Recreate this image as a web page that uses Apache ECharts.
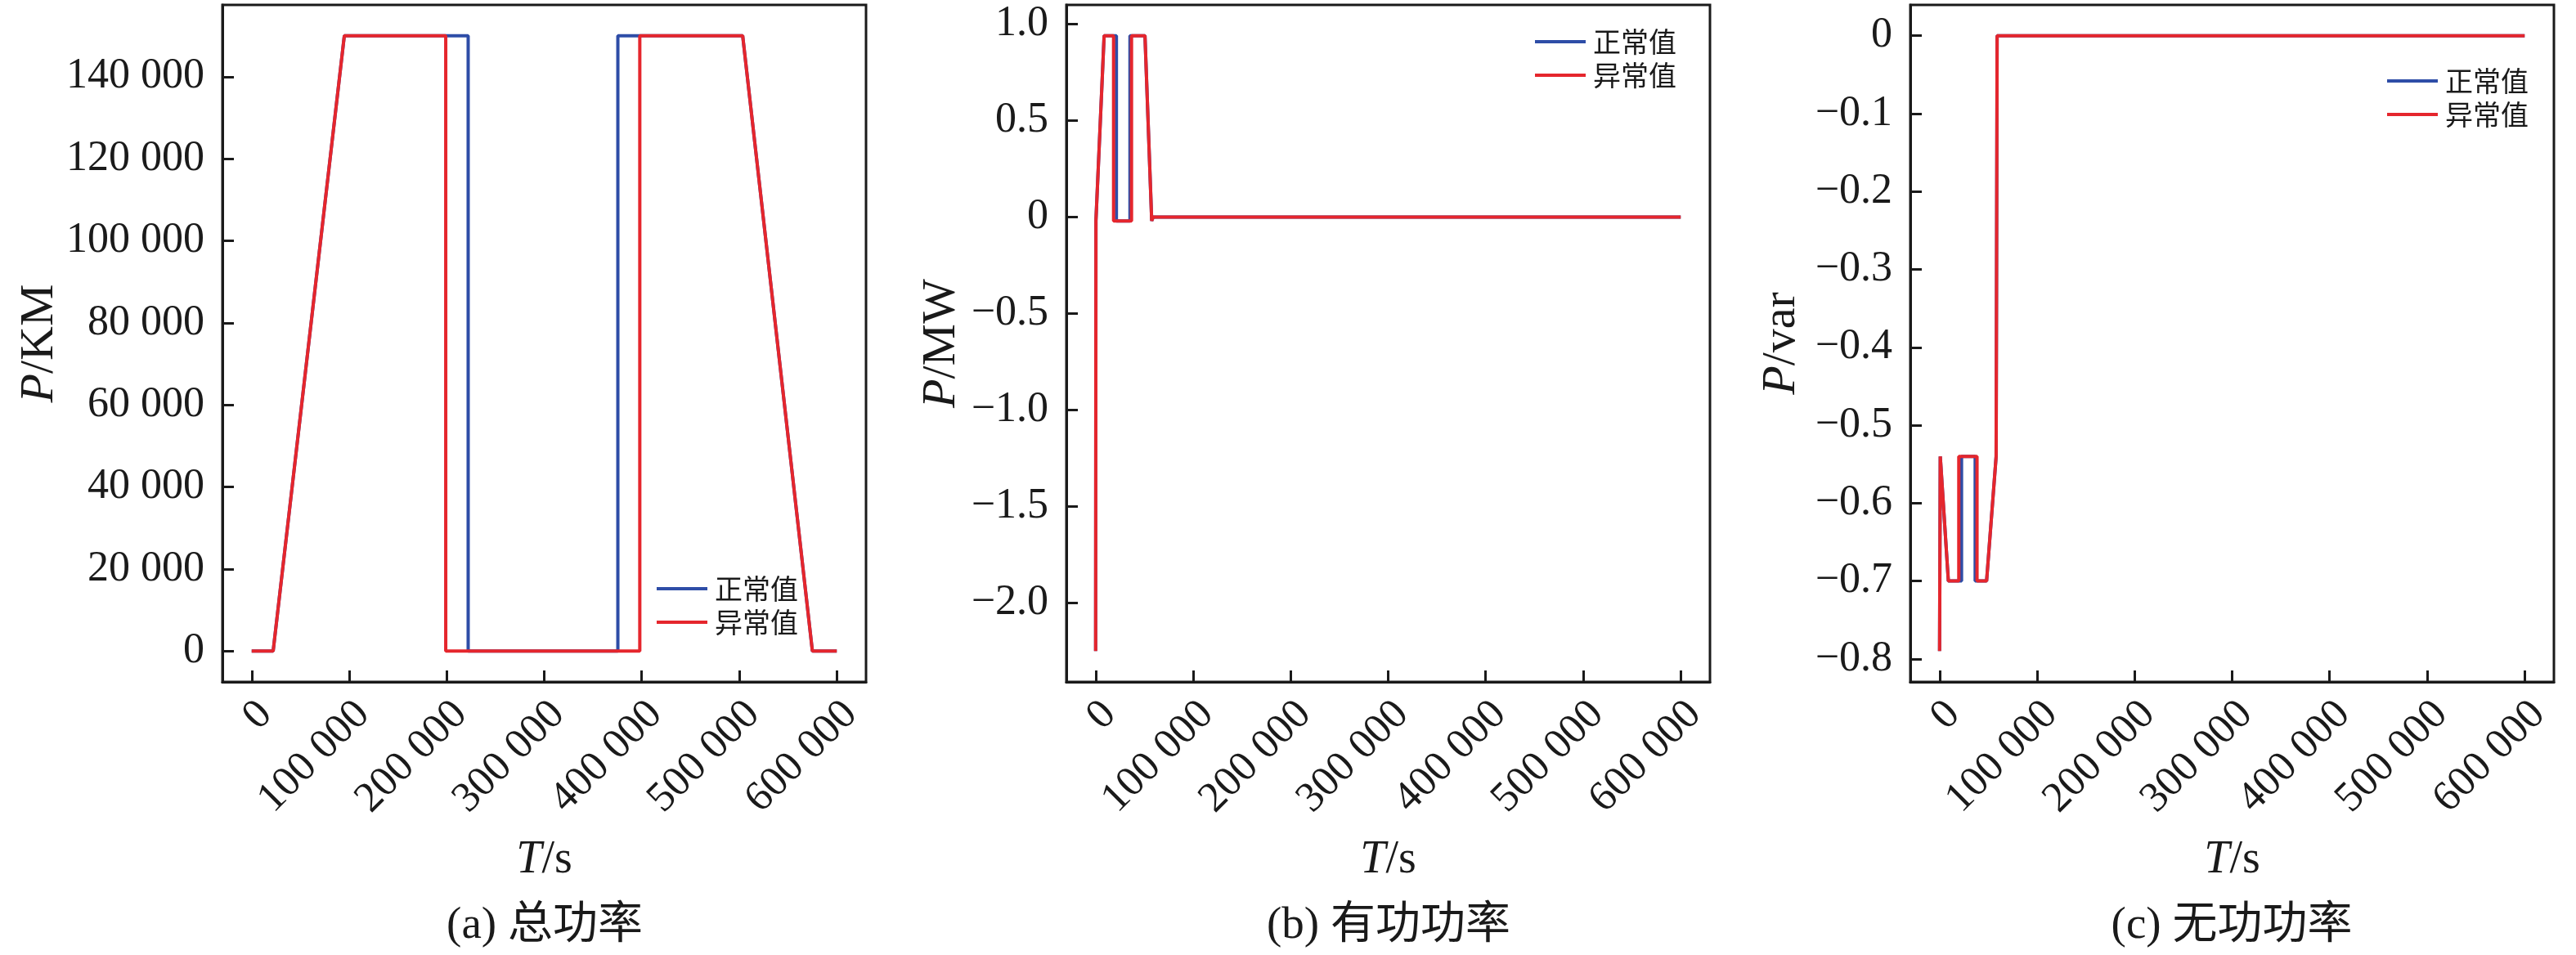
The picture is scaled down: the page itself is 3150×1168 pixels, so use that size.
<!DOCTYPE html>
<html>
<head>
<meta charset="utf-8">
<script src="https://cdn.jsdelivr.net/npm/echarts@6/dist/echarts.min.js"></script>
<style>
  html, body { margin: 0; padding: 0; background: #fff; }
  #main { width: 3150px; height: 1168px; }
</style>
</head>
<body>
<div id="main"></div>
<script>
// tick labels
const timeTicks = [0, 100000, 200000, 300000, 400000, 500000, 600000];
const totalTicks = [0, 20000, 40000, 60000, 80000, 100000, 120000, 140000];
const activeTicks = [-2, -1.5, -1, -0.5, 0, 0.5, 1];
const reactiveTicks = [-0.8, -0.7, -0.6, -0.5, -0.4, -0.3, -0.2, -0.1, 0];

// (a) total power
const totalNormalT = [0, 22000, 95000, 222000, 222000, 375500, 375500, 503500, 575000, 600000];
const totalNormalP = [0, 0, 150000, 150000, 0, 0, 150000, 150000, 0, 0];
const totalAbnormalT = [0, 22000, 95000, 199000, 199000, 398000, 398000, 503500, 575000, 600000];
const totalAbnormalP = [0, 0, 150000, 150000, 0, 0, 150000, 150000, 0, 0];

// (b) active power
const activeNormalT = [0, 300, 8700, 21300, 21300, 35200, 35200, 50600, 57500, 59000, 600000];
const activeNormalP = [-2.25, -0.02, 0.94, 0.94, -0.02, -0.02, 0.94, 0.94, -0.02, 0, 0];
const activeAbnormalT = [0, 300, 8700, 18400, 18400, 36800, 36800, 50600, 57500, 59000, 600000];
const activeAbnormalP = [-2.25, -0.02, 0.94, 0.94, -0.02, -0.02, 0.94, 0.94, -0.02, 0, 0];

// (c) reactive power
const reactiveNormalT = [0, 700, 9000, 22500, 22500, 36500, 36500, 48200, 58000, 59000, 600000];
const reactiveNormalP = [-0.79, -0.54, -0.70, -0.70, -0.54, -0.54, -0.70, -0.70, -0.54, 0, 0];
const reactiveAbnormalT = [0, 700, 9000, 19700, 19700, 38400, 38400, 48200, 58000, 59000, 600000];
const reactiveAbnormalP = [-0.79, -0.54, -0.70, -0.70, -0.54, -0.54, -0.70, -0.70, -0.54, 0, 0];

const BLUE = '#2e4da7';
const RED = '#e5262d';
const INK = '#1a1a1a';
const SERIF = '"Liberation Serif", "Times New Roman", serif';
const CJK = '"Noto Sans CJK SC", sans-serif';

function zip(t, p) {
  return t.map((x, i) => [x, p[i]]);
}
function spaced(v) {
  return String(v).replace(/\B(?=(\d{3})+(?!\d))/g, ' ');
}
function decimal(v) {
  if (Math.abs(v) < 1e-9) return '0';
  return v.toFixed(1).replace('-', '\u2212');
}

const chart = echarts.init(document.getElementById('main'));

const grids = [
  { left: 272, top: 6, width: 787, height: 828 },
  { left: 1304, top: 6, width: 787, height: 828 },
  { left: 2336, top: 6, width: 787, height: 828 }
];

function xAxisFor(i) {
  return {
    type: 'value',
    gridIndex: i,
    min: -30000,
    max: 630000,
    name: '{i|T}/s',
    nameLocation: 'middle',
    nameGap: 190,
    nameMoveOverlap: false,
    nameTextStyle: {
      color: INK, fontFamily: SERIF, fontSize: 56,
      rich: { i: { fontStyle: 'italic', fontFamily: SERIF, fontSize: 56, color: INK } }
    },
    axisLine: { show: true, onZero: false, lineStyle: { color: INK, width: 3 } },
    axisTick: { show: true, inside: true, length: 14, customValues: timeTicks, lineStyle: { color: INK, width: 3 } },
    axisLabel: {
      customValues: timeTicks,
      rotate: 45,
      margin: 15,
      verticalAlign: 'top',
      lineHeight: 48,
      color: INK, fontFamily: SERIF, fontSize: 52,
      formatter: spaced
    },
    splitLine: { show: false }
  };
}

function yAxisFor(i, min, max, ticks, fmt, name, gap) {
  return {
    type: 'value',
    gridIndex: i,
    min: min,
    max: max,
    name: name,
    nameLocation: 'middle',
    nameGap: gap,
    nameMoveOverlap: false,
    nameTextStyle: {
      color: INK, fontFamily: SERIF, fontSize: 58,
      rich: { i: { fontStyle: 'italic', fontFamily: SERIF, fontSize: 58, color: INK } }
    },
    axisLine: { show: true, onZero: false, lineStyle: { color: INK, width: 3 } },
    axisTick: { show: true, inside: true, length: 14, customValues: ticks, lineStyle: { color: INK, width: 3 } },
    axisLabel: {
      customValues: ticks,
      margin: 22,
      color: INK, fontFamily: SERIF, fontSize: 52,
      formatter: fmt
    },
    splitLine: { show: false }
  };
}

function lineSeries(name, color, i, data) {
  return {
    name: name,
    type: 'line',
    xAxisIndex: i,
    yAxisIndex: i,
    data: data,
    symbol: 'none',
    lineStyle: { color: color, width: 4 },
    itemStyle: { color: color },
    animation: false
  };
}

function legendAt(left, top) {
  return {
    orient: 'vertical',
    left: left,
    top: top,
    icon: 'rect',
    itemWidth: 62,
    itemHeight: 4,
    itemGap: 7,
    data: ['正常值', '异常值'],
    textStyle: { fontFamily: CJK, fontSize: 34, color: INK, padding: [0, 0, 0, 4] }
  };
}

function caption(text, x) {
  return {
    type: 'text',
    x: x,
    y: 1133,
    style: {
      text: text,
      font: '55px "Liberation Serif", "Noto Sans CJK SC"',
      fill: INK,
      textAlign: 'center',
      textVerticalAlign: 'middle'
    }
  };
}

chart.setOption({
  animation: false,
  backgroundColor: '#fff',
  grid: grids.map(g => Object.assign({
    show: true, borderColor: INK, borderWidth: 3, backgroundColor: 'transparent',
    containLabel: false, outerBoundsMode: 'none'
  }, g)),
  xAxis: [xAxisFor(0), xAxisFor(1), xAxisFor(2)],
  yAxis: [
    yAxisFor(0, -7500, 157500, totalTicks, spaced, '{i|P}/KM', 194),
    yAxisFor(1, -2.4095, 1.0995, activeTicks, decimal, '{i|P}/MW', 123),
    yAxisFor(2, -0.8295, 0.0395, reactiveTicks, decimal, '{i|P}/var', 128)
  ],
  legend: [legendAt(798, 698), legendAt(1872, 29), legendAt(2914, 77)],
  series: [
    lineSeries('正常值', BLUE, 0, zip(totalNormalT, totalNormalP)),
    lineSeries('异常值', RED, 0, zip(totalAbnormalT, totalAbnormalP)),
    lineSeries('正常值', BLUE, 1, zip(activeNormalT, activeNormalP)),
    lineSeries('异常值', RED, 1, zip(activeAbnormalT, activeAbnormalP)),
    lineSeries('正常值', BLUE, 2, zip(reactiveNormalT, reactiveNormalP)),
    lineSeries('异常值', RED, 2, zip(reactiveAbnormalT, reactiveAbnormalP))
  ],
  graphic: [
    caption('(a) 总功率', 666),
    caption('(b) 有功功率', 1698),
    caption('(c) 无功功率', 2729)
  ]
});
</script>
</body>
</html>
